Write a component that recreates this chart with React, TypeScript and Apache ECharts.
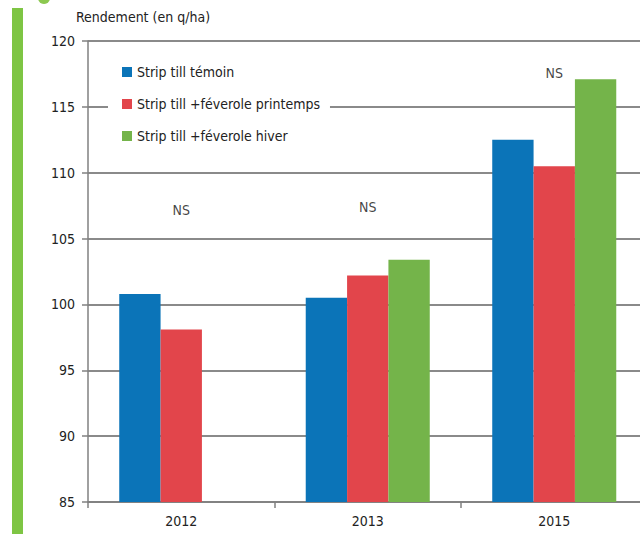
import React, { useEffect, useRef } from "react";
import * as echarts from "echarts";

const categories = ["2012", "2013", "2015"];
const temoin = [100.8, 100.5, 112.5];
const printemps = [98.1, 102.2, 110.5];
const hiver = [null, 103.4, 117.1];
const nsLevels = [107.2, 107.4, 117.6];
const seriesNames = ["Strip till témoin", "Strip till +féverole printemps", "Strip till +féverole hiver"];
const yTicks = { min: 85, max: 120, interval: 5 };

const FONT = "'Liberation Sans Narrow', 'DejaVu Sans Condensed', 'Liberation Sans', sans-serif";
const FS = 14;

export default function App() {
  const ref = useRef<HTMLDivElement>(null);
  useEffect(() => {
    const chart = echarts.init(ref.current!, null, { renderer: "svg" });
    chart.setOption({
      animation: false,
      backgroundColor: "#fff",
      textStyle: { fontFamily: FONT },
      grid: { left: 88, top: 41, right: 12.5, bottom: 32, containLabel: false },
      legend: {
        data: seriesNames,
        orient: "vertical",
        left: 108,
        top: 58,
        itemGap: 18,
        itemWidth: 10,
        itemHeight: 10,
        icon: "rect",
        backgroundColor: "#fff",
        padding: [7, 10, 6, 14],
        textStyle: { fontFamily: FONT, fontSize: FS, color: "#222" },
      },
      graphic: [
        { type: "rect", shape: { x: 12, y: 8, width: 11, height: 530 }, style: { fill: "#7ec544" } },
        { type: "circle", shape: { cx: 44, cy: -2, r: 6 }, style: { fill: "#8cc850" } },
        {
          type: "text",
          left: 76,
          top: 10,
          style: { text: "Rendement (en q/ha)", font: `${FS}px ${FONT}`, fill: "#222" },
        },
      ],
      xAxis: {
        type: "category",
        data: categories,
        axisLine: { lineStyle: { color: "#808080", width: 1.5 } },
        axisTick: { show: true, length: 6, lineStyle: { color: "#808080", width: 1.5 } },
        axisLabel: { fontSize: FS, color: "#222", margin: 12, fontFamily: FONT },
      },
      yAxis: {
        type: "value",
        min: yTicks.min,
        max: yTicks.max,
        interval: yTicks.interval,
        axisLine: { show: true, lineStyle: { color: "#808080", width: 1.5 } },
        axisTick: { show: true, length: 6, lineStyle: { color: "#808080", width: 1.5 } },
        axisLabel: { fontSize: FS, color: "#222", margin: 13, fontFamily: FONT },
        splitLine: { show: true, lineStyle: { color: "#8a8a8a", width: 2 } },
      },
      series: [
        {
          name: seriesNames[0],
          type: "bar",
          data: temoin,
          barGap: "0%",
          barCategoryGap: "33.5%",
          itemStyle: { color: "#0b74b8" },
        },
        {
          name: seriesNames[1],
          type: "bar",
          data: printemps,
          barGap: "0%",
          barCategoryGap: "33.5%",
          itemStyle: { color: "#e2454b" },
        },
        {
          name: seriesNames[2],
          type: "bar",
          data: hiver,
          barGap: "0%",
          barCategoryGap: "33.5%",
          itemStyle: { color: "#74b44a" },
        },
        {
          name: "NS",
          type: "scatter",
          data: nsLevels,
          symbolSize: 1,
          itemStyle: { color: "transparent" },
          label: {
            show: true,
            position: "inside",
            formatter: "NS",
            fontSize: FS,
            color: "#111",
            fontFamily: FONT,
          },
          z: 10,
        },
      ],
    });
    return () => chart.dispose();
  }, []);
  return (
    <div
      ref={ref}
      style={{ position: "fixed", left: 0, top: 0, width: 660, height: 534 }}
    />
  );
}
